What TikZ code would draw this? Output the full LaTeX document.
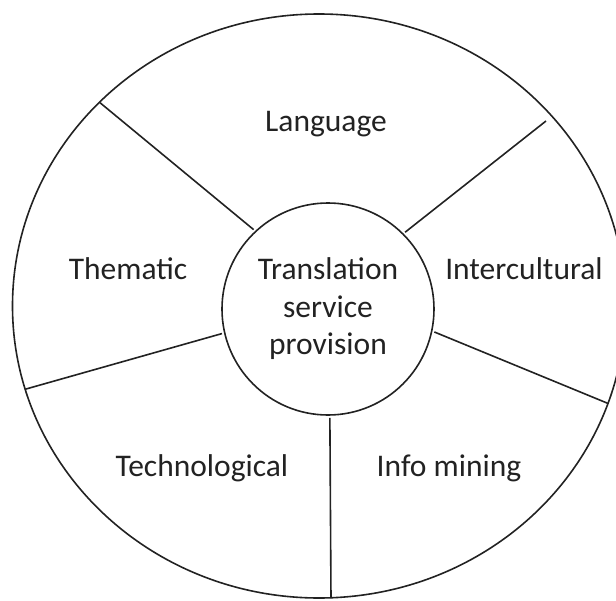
\documentclass[tikz,border=0pt]{standalone}
\usepackage{fontspec}
\setmainfont{Carlito}
\usepackage{xcolor}
\usepackage{tikz}
\definecolor{wheelink}{HTML}{222222}

\begin{document}
\begin{tikzpicture}[
  x=1pt, y=1pt,
  font=\fontsize{31.5}{37.5}\selectfont,
  hub/.style={circle, draw=wheelink, line width=1.6pt, minimum size=212pt,
    inner sep=0pt, align=center, text=wheelink},
  rim/.style={draw=wheelink, line width=1.6pt},
  spoke/.style={draw=wheelink, line width=1.6pt, shorten <=2pt},
  sector/.style={anchor=base, inner sep=0pt, text=wheelink}
]
  \useasboundingbox (-328,-291) rectangle (288,309);

  % centre and outer ring
  \node[hub] (hub) at (0,0) {Translation\\service\\provision};
  \draw[rim] (-9,3) ellipse [x radius=306.5, y radius=292];

  % where the spokes meet the ring
  \coordinate (ulrim) at (-228,206.3);
  \coordinate (urrim) at (218,188);
  \coordinate (llrim) at (-303,-80.3);
  \coordinate (lrrim) at (279.7,-94.3);
  \coordinate (btrim) at (3,-289);

  \draw[spoke] (hub.133) -- (ulrim);
  \draw[spoke] (hub.45) -- (urrim);
  \draw[spoke] (hub.193.6) -- (llrim);
  \draw[spoke] (hub.-12) -- (lrrim);
  \draw[spoke] (hub.271.6) -- (btrim);

  % sector labels
  \node[sector] (language) at (-2,177) {Language};
  \node[sector] (thematic) at (-200,30) {Thematic};
  \node[sector] (intercultural) at (196,30) {Intercultural};
  \node[sector] (technological) at (-126,-167) {Technological};
  \node[sector] (infomining) at (121,-167) {Info mining};
\end{tikzpicture}
\end{document}
